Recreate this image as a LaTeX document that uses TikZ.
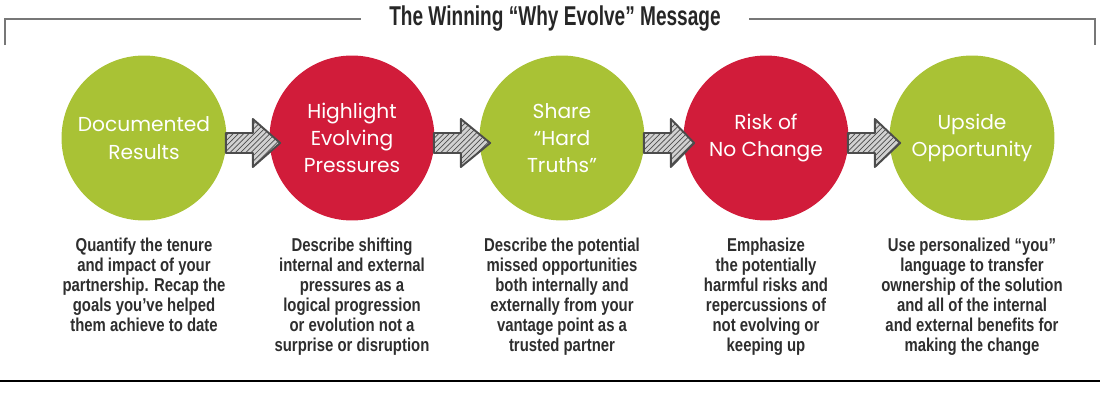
\documentclass[tikz,border=0pt]{standalone}
\usepackage{fontspec}
\setmainfont{Liberation Sans}
\newfontfamily\condfont{Liberation Sans}[FakeStretch=0.8]
\newfontfamily\titlefont{Liberation Sans}[FakeStretch=0.7]
\newfontfamily\handfont{Poppins}
\usepackage{tikz}
\usetikzlibrary{positioning,calc,patterns}

\definecolor{leaf}{HTML}{A9C235}
\definecolor{berry}{HTML}{D11C3A}
\definecolor{ink}{HTML}{2E2E2E}
\definecolor{rule}{HTML}{777777}

\tikzset{
  stage/.style={circle, inner sep=0pt, minimum size=3.3cm, text=white, align=center,
    font=\handfont\fontsize{11.5}{15.5}\selectfont},
  greenstage/.style={stage, fill=leaf},
  redstage/.style={stage, fill=berry},
  blurb/.style={inner sep=0pt, align=center, text=ink,
    font=\condfont\bfseries\fontsize{10.6}{11.4}\selectfont},
  hatcharrow/.style={draw=black!70, line width=1.1pt, line join=round,
    preaction={fill=black!18}, pattern=north east lines, pattern color=black!70},
}

\begin{document}
\begin{tikzpicture}[x=0.02cm, y=-0.02cm, node distance=0.34cm]
\useasboundingbox (0,0) rectangle (1100,409);

% Title and frame
\node[inner xsep=16pt, inner ysep=0pt, text=black!85, font=\titlefont\bfseries\fontsize{15.5}{18}\selectfont] (title) at (555,19) {The Winning “Why Evolve” Message};
\draw[rule, line width=1.2pt] (5,45) -- (5,19) -- (title.west);
\draw[rule, line width=1.2pt] (title.east) -- (1095,19) -- (1095,45);

% Nodes
\node[greenstage] (c1) at (144,138) {Documented\\Results};
\node[redstage] (c2) at (352,138) {Highlight\\Evolving\\Pressures};
\node[greenstage] (c3) at (562,138) {Share\\“Hard\\Truths”};
\node[redstage] (c4) at (766,138) {Risk of\\No Change};
\node[greenstage] (c5) at (972,138) {Upside\\Opportunity};

\node[blurb, below=of c1] (d1) {Quantify the tenure\\and impact of your\\partnership. Recap the\\goals you’ve helped\\them achieve to date};
\node[blurb, below=of c2] (d2) {Describe shifting\\internal and external\\pressures as a\\logical progression\\or evolution not a\\surprise or disruption};
\node[blurb, below=of c3] (d3) {Describe the potential\\missed opportunities\\both internally and\\externally from your\\vantage point as a\\trusted partner};
\node[blurb, below=of c4] (d4) {Emphasize\\the potentially\\harmful risks and\\repercussions of\\not evolving or\\keeping up};
\node[blurb, below=of c5] (d5) {Use personalized “you”\\language to transfer\\ownership of the solution\\and all of the internal\\and external benefits for\\making the change};

% Edges
\foreach \a/\b in {c1/c2, c2/c3, c3/c4, c4/c5}
  \draw[hatcharrow] ($(\a.east)+(-1,-5)$) -- ($(\a.east)+(26,-5)$) -- ($(\a.east)+(26,-19)$)
    -- ($(\b.west)+(11,5)$) -- ($(\a.east)+(26,29)$) -- ($(\a.east)+(26,15)$)
    -- ($(\a.east)+(-1,15)$) -- cycle;

% Bottom rule
\draw[black, line width=1.2pt] (0,381) -- (1100,381);
\end{tikzpicture}
\end{document}
